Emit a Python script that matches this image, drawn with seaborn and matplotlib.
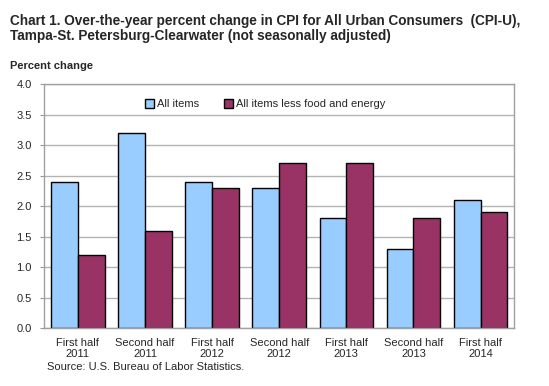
import pandas as pd
import matplotlib
matplotlib.use("Agg")
import matplotlib.pyplot as plt
import seaborn as sns

periodos = ["First half\n2011", "Second half\n2011", "First half\n2012", "Second half\n2012",
            "First half\n2013", "Second half\n2013", "First half\n2014"]
all_items = [2.4, 3.2, 2.4, 2.3, 1.8, 1.3, 2.1]
core_items = [1.2, 1.6, 2.3, 2.7, 2.7, 1.8, 1.9]
series = ["All items", "All items less food and energy"]
cores = ["#99CCFF", "#993366"]

df = pd.DataFrame({
    "periodo": periodos * 2,
    "valor": all_items + core_items,
    "serie": [series[0]] * len(periodos) + [series[1]] * len(periodos),
})

sns.set_style("white")
plt.rcParams["font.family"] = ["Liberation Sans", "DejaVu Sans"]

fig = plt.figure(figsize=(5.49, 3.86), dpi=100)
ax = fig.add_axes([0.0806, 0.150, 0.856, 0.632])

sns.barplot(data=df, x="periodo", y="valor", hue="serie", palette=cores,
            edgecolor="black", linewidth=1, width=0.8, ax=ax, saturation=1)

ax.set_ylim(0, 4.0)
ax.set_yticks([i / 2 for i in range(9)])
ax.set_yticklabels([f"{i / 2:.1f}" for i in range(9)], fontsize=8)
ax.tick_params(axis="x", labelsize=8, length=0, pad=7)
ax.tick_params(axis="y", length=3, color="#999999", pad=6, left=True)
ax.set_xlabel("")
ax.set_ylabel("")
ax.yaxis.grid(True, color="#b3b3b3", linewidth=1)
ax.set_axisbelow(True)
for s in ax.spines.values():
    s.set_color("#a0a0a0")
    s.set_linewidth(1)

ax.legend(loc="upper center", bbox_to_anchor=(0.47, 0.98), ncol=2, frameon=False,
          fontsize=8, handlelength=0.8, handleheight=0.8, handletextpad=0.3,
          columnspacing=2.2)

fig.text(0.018, 0.965, "Chart 1. Over-the-year percent change in CPI for All Urban Consumers  (CPI-U),\n"
         "Tampa-St. Petersburg-Clearwater (not seasonally adjusted)",
         fontsize=9.8, fontweight="bold", va="top", ha="left", linespacing=1.1)
fig.text(0.018, 0.828, "Percent change", fontsize=8, fontweight="bold", va="center", ha="left")
fig.text(0.086, 0.050, "Source: U.S. Bureau of Labor Statistics.", fontsize=8, va="center", ha="left")

plt.savefig("out.png", dpi=100)
